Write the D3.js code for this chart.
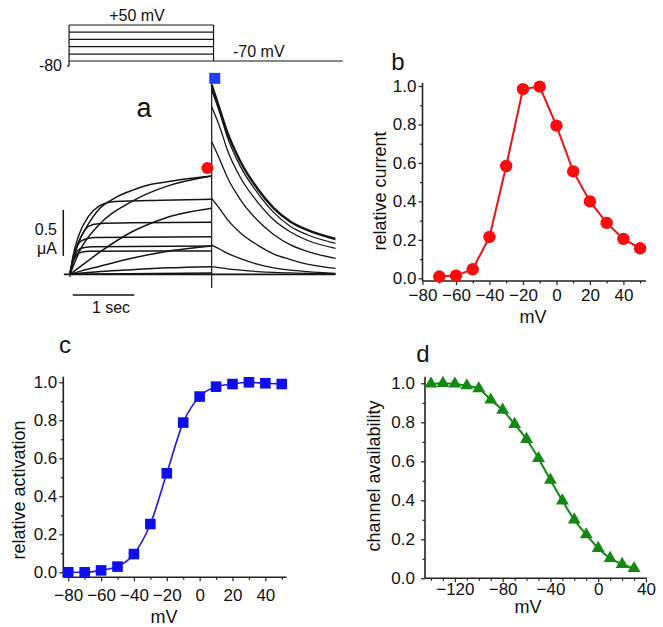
<!DOCTYPE html>
<html>
<head>
<meta charset="utf-8">
<script src="https://cdn.jsdelivr.net/npm/d3@7"></script>
<style>
  html, body { margin: 0; padding: 0; background: #fff; }
  svg { display: block; }
  text { font-family: "Liberation Sans", Arial, Helvetica, sans-serif; fill: #111; }
</style>
</head>
<body>
<svg id="chart" width="663" height="627"></svg>
<script>
// ---------------- DATA ----------------
// Panel a: voltage protocol (mV)
const holdingPotential = -80;
const stepLevels = [50, 24, -2, -28, -55];
const stepDuration = 2.31;        // sec
const protocolEnd = 4.43;         // sec
// Panel a: activation currents during the step, [time (s), current (uA)]
const activationTraces = [
  [[0,0],[0.05,0.15],[0.135,0.34],[0.24,0.48],[0.46,0.70],[0.73,0.83],[1.0,0.91],[1.27,0.97],[1.54,1.0],[1.81,1.03],[2.3,1.068]],
  [[0,0],[0.17,0.27],[0.46,0.53],[1.0,0.79],[1.54,0.95],[2.3,1.068]],
  [[0,0],[0.05,0.2],[0.135,0.41],[0.3,0.63],[0.46,0.735],[0.73,0.79],[1.5,0.805],[2.3,0.815]],
  [[0,0],[0.2,0.1],[0.46,0.23],[1.0,0.46],[1.54,0.61],[2.3,0.717]],
  [[0,0],[0.05,0.17],[0.135,0.34],[0.3,0.52],[0.46,0.55],[1.0,0.56],[2.3,0.565]],
  [[0,0],[0.04,0.14],[0.1,0.28],[0.2,0.37],[0.4,0.40],[2.3,0.409]],
  [[0,0],[0.03,0.1],[0.08,0.2],[0.17,0.28],[0.35,0.30],[2.3,0.308]],
  [[0,0],[0.03,0.1],[0.07,0.17],[0.14,0.23],[0.3,0.25],[2.3,0.253]],
  [[0,0],[0.2,0.04],[0.46,0.083],[1.0,0.174],[1.54,0.246],[2.3,0.308]],
  [[0,0],[0.5,0.03],[1.0,0.05],[1.6,0.07],[2.3,0.083]],
  [[0,0],[2.3,0.014]]
];
// Panel a: tail currents after the step (time since step end, s)
const tailTimes = [0, 0.143, 0.25, 0.468, 0.739, 1.01, 1.28, 1.55, 2.01];
const tailCurrents = [
  [2.058,1.768,1.55,1.224,0.935,0.717,0.572,0.482,0.384],
  [2.003,1.73,1.5,1.17,0.89,0.67,0.52,0.43,0.337],
  [1.822,1.58,1.36,1.05,0.79,0.59,0.46,0.37,0.283],
  [1.442,1.23,1.06,0.81,0.59,0.43,0.32,0.25,0.174],
  [0.826,0.70,0.60,0.45,0.32,0.22,0.16,0.11,0.065],
  [0.318,0.27,0.23,0.17,0.11,0.07,0.045,0.03,0.011],
  [0.083,0.07,0.06,0.045,0.03,0.02,0.015,0.01,0.005]
];
const stepCurrentMarker = [2.23, 1.155];   // red circle (t, uA)
const tailCurrentMarker = [2.35, 2.13];    // blue square (t, uA)

// Panel b: relative current vs voltage
const bVoltages = [-70,-60,-50,-40,-30,-20,-10,0,10,20,30,40,50];
const bCurrent  = [0.009,0.014,0.047,0.215,0.584,0.984,0.997,0.794,0.556,0.40,0.288,0.205,0.156];

// Panel c: relative activation vs voltage
const cVoltages   = [-80,-70,-60,-50,-40,-30,-20,-10,0,10,20,30,40,50];
const cActivation = [0.0,0.0,0.01,0.03,0.096,0.254,0.521,0.788,0.925,0.977,0.991,1.0,0.995,0.991];

// Panel d: channel availability vs voltage
const dVoltages     = [-140,-130,-120,-110,-100,-90,-80,-70,-60,-50,-40,-30,-20,-10,0,10,20,30];
const dAvailability = [0.997,1.0,0.997,0.988,0.973,0.915,0.863,0.79,0.713,0.615,0.504,0.398,0.30,0.224,0.154,0.103,0.072,0.051];

// Tick labels
const yTicksMajor = [0,0.2,0.4,0.6,0.8,1.0];
const yTicksMinor = [0.1,0.3,0.5,0.7,0.9];
const bXMajor = [-80,-60,-40,-20,0,20,40];
const bXMinor = [-70,-50,-30,-10,10,30,50];
const cXMajor = [-80,-60,-40,-20,0,20,40];
const cXMinor = [-70,-50,-30,-10,10,30,50];
const dXMajor = [-120,-80,-40,0,40];
const dXMinor = [-140,-130,-110,-100,-90,-70,-60,-50,-30,-20,-10,10,20,30];

// ---------------- DRAW ----------------
const svg = d3.select("#chart");
svg.append("rect").attr("width",663).attr("height",627).attr("fill","#fff");
const FONT = '"Liberation Sans", Arial, Helvetica, sans-serif';

// ===== Panel a =====
const xA = d3.scaleLinear().domain([0, 1]).range([70, 131.6]);    // 1 s
const yA = d3.scaleLinear().domain([0, 1]).range([274.3, 182.3]);  // 1 uA
const yV = d3.scaleLinear().domain([-80, 50]).range([61, 25]);
const gA = svg.append("g");
const ink = "#151515";

// protocol
stepLevels.forEach(v => {
  gA.append("line").attr("x1", xA(-0.015)).attr("x2", xA(stepDuration + 0.02))
    .attr("y1", yV(v)).attr("y2", yV(v)).attr("stroke", ink).attr("stroke-width", 1.2);
});
gA.append("line").attr("x1", xA(-0.015)).attr("x2", xA(-0.015))
  .attr("y1", yV(d3.max(stepLevels))).attr("y2", yV(holdingPotential) + 5).attr("stroke", ink).attr("stroke-width", 1.2);
gA.append("line").attr("x1", xA(-0.05)).attr("x2", xA(-0.015))
  .attr("y1", yV(holdingPotential) + 5).attr("y2", yV(holdingPotential) + 5).attr("stroke", ink).attr("stroke-width", 1.2);
gA.append("line").attr("x1", xA(stepDuration + 0.02)).attr("x2", xA(stepDuration + 0.02))
  .attr("y1", yV(d3.max(stepLevels))).attr("y2", yV(holdingPotential)).attr("stroke", ink).attr("stroke-width", 1.2);
gA.append("line").attr("x1", xA(-0.015)).attr("x2", xA(protocolEnd))
  .attr("y1", yV(holdingPotential)).attr("y2", yV(holdingPotential)).attr("stroke", ink).attr("stroke-width", 1.2);
gA.append("text").attr("x", 137).attr("y", 20.5).attr("text-anchor","middle")
  .style("font-size","16px").text("+50 mV");
gA.append("text").attr("x", 233).attr("y", 57.3).attr("text-anchor","start")
  .style("font-size","16px").text("-70 mV");
gA.append("text").attr("x", 62).attr("y", 71).attr("text-anchor","end")
  .style("font-size","16px").text("-80");

// currents
const lineA = d3.line().x(d => xA(d[0])).y(d => yA(d[1])).curve(d3.curveMonotoneX);
activationTraces.forEach(tr => {
  gA.append("path").attr("d", lineA(tr)).attr("fill","none").attr("stroke", ink).attr("stroke-width", 1.5);
});
tailCurrents.forEach((tc, k) => {
  const pts = tailTimes.map((t, j) => [stepDuration - 0.01 + t, tc[j]]);
  gA.append("path").attr("d", lineA(pts)).attr("fill","none").attr("stroke", ink)
    .attr("stroke-width", k === 0 ? 2.4 : 1.3);
});
// baseline and step-end line
gA.append("line").attr("x1", xA(-0.1)).attr("x2", xA(stepDuration - 0.01 + d3.max(tailTimes)))
  .attr("y1", yA(0)).attr("y2", yA(0)).attr("stroke", ink).attr("stroke-width", 1.8);
gA.append("line").attr("x1", xA(0)).attr("x2", xA(0))
  .attr("y1", yA(0.045)).attr("y2", yA(-0.03)).attr("stroke", ink).attr("stroke-width", 1.2);
gA.append("line").attr("x1", xA(stepDuration - 0.01)).attr("x2", xA(stepDuration - 0.01))
  .attr("y1", yA(2.12)).attr("y2", yA(-0.15)).attr("stroke", ink).attr("stroke-width", 1.2);
// scale bars
gA.append("line").attr("x1", 63.3).attr("x2", 63.3).attr("y1", yA(0.7)).attr("y2", yA(0.2))
  .attr("stroke", ink).attr("stroke-width", 1.5);
gA.append("line").attr("x1", xA(0.045)).attr("x2", xA(1.045)).attr("y1", 295).attr("y2", 295)
  .attr("stroke", ink).attr("stroke-width", 1.5);
gA.append("text").attr("x", 57).attr("y", 235).attr("text-anchor","end").style("font-size","16px").text("0.5");
gA.append("text").attr("x", 57).attr("y", 254).attr("text-anchor","end").style("font-size","16px").text("\u03BCA");
gA.append("text").attr("x", 111).attr("y", 313).attr("text-anchor","middle").style("font-size","16px").text("1 sec");
// markers
gA.append("circle").attr("cx", xA(stepCurrentMarker[0])).attr("cy", yA(stepCurrentMarker[1]))
  .attr("r", 6).attr("fill", "#ff0a0a");
gA.append("rect").attr("x", xA(tailCurrentMarker[0]) - 5.5).attr("y", yA(tailCurrentMarker[1]) - 5.5)
  .attr("width", 11).attr("height", 11).attr("fill", "#1f3fff");
gA.append("text").attr("x", 144).attr("y", 117).attr("text-anchor","middle")
  .style("font-size","27px").text("a");

// ===== generic axis helper =====
function drawAxes(g, x, y, opt) {
  const axisStroke = "#222";
  g.append("line").attr("x1", x.range()[0]).attr("x2", opt.xEnd)
    .attr("y1", opt.axisY).attr("y2", opt.axisY).attr("stroke", axisStroke).attr("stroke-width", 1.6);
  g.append("line").attr("x1", x.range()[0]).attr("x2", x.range()[0])
    .attr("y1", opt.axisY).attr("y2", opt.yTop).attr("stroke", axisStroke).attr("stroke-width", 1.6);
  const xMinorG = g.append("g").attr("transform", `translate(0,${opt.axisY})`)
    .call(d3.axisBottom(x).tickValues(opt.xMinor).tickSize(2.5).tickSizeOuter(0).tickFormat(""));
  const xMajorG = g.append("g").attr("transform", `translate(0,${opt.axisY})`)
    .call(d3.axisBottom(x).tickValues(opt.xMajor).tickSize(4).tickSizeOuter(0).tickPadding(opt.xPad).tickFormat(d3.format("d")));
  const yMinorG = g.append("g").attr("transform", `translate(${x.range()[0]},0)`)
    .call(d3.axisLeft(y).tickValues(yTicksMinor).tickSize(2.5).tickSizeOuter(0).tickFormat(""));
  const yMajorG = g.append("g").attr("transform", `translate(${x.range()[0]},0)`)
    .call(d3.axisLeft(y).tickValues(yTicksMajor).tickSize(4).tickSizeOuter(0).tickPadding(opt.yPad).tickFormat(d3.format(".1f")));
  [xMinorG, xMajorG, yMinorG, yMajorG].forEach(a => {
    a.select(".domain").remove();
    a.selectAll("line").attr("stroke", axisStroke).attr("stroke-width", 1.2);
    a.selectAll("text").style("font-size", "17px").style("font-family", FONT).attr("fill", "#111");
  });
  g.append("text").attr("x", opt.xTitle[0]).attr("y", opt.xTitle[1]).attr("text-anchor","middle")
    .style("font-size","18px").text("mV");
  g.append("text").attr("transform", `translate(${opt.yTitle[0]},${opt.yTitle[1]}) rotate(-90)`)
    .attr("text-anchor","middle").style("font-size","18px").text(opt.yLabel);
  g.append("text").attr("x", opt.letter[0]).attr("y", opt.letter[1]).attr("text-anchor","middle")
    .style("font-size","24px").text(opt.letterText);
}

// ===== Panel b =====
const xB = d3.scaleLinear().domain([-80, 53.5]).range([422.5, 646]);
const yB = d3.scaleLinear().domain([0, 1]).range([278.3, 86]);
const gB = svg.append("g");
drawAxes(gB, xB, yB, {axisY: 281, xEnd: 646, yTop: 83, xMajor: bXMajor, xMinor: bXMinor,
  xPad: 4, yPad: 2, xTitle: [533, 323], yTitle: [386, 191], yLabel: "relative current",
  letter: [398, 70], letterText: "b"});
const bPts = bVoltages.map((v, i) => [v, bCurrent[i]]);
gB.append("path").attr("d", d3.line().x(d => xB(d[0])).y(d => yB(d[1]))(bPts))
  .attr("fill","none").attr("stroke","#ee1111").attr("stroke-width", 2);
gB.selectAll("circle.pt").data(bPts).join("circle").attr("class","pt")
  .attr("cx", d => xB(d[0])).attr("cy", d => yB(d[1])).attr("r", 6.2).attr("fill", "#ff0a0a");

// ===== Panel c =====
const xC = d3.scaleLinear().domain([-83, 53]).range([63.3, 286.7]);
const yC = d3.scaleLinear().domain([0, 1]).range([572.3, 382.3]);
const gC = svg.append("g");
drawAxes(gC, xC, yC, {axisY: 577.3, xEnd: 286.7, yTop: 376.7, xMajor: cXMajor, xMinor: cXMinor,
  xPad: 8, yPad: 2, xTitle: [164, 623], yTitle: [25, 490], yLabel: "relative activation",
  letter: [65, 353], letterText: "c"});
const cPts = cVoltages.map((v, i) => [v, cActivation[i]]);
gC.append("path").attr("d", d3.line().x(d => xC(d[0])).y(d => yC(d[1])).curve(d3.curveMonotoneX)(cPts))
  .attr("fill","none").attr("stroke","#1a1ae6").attr("stroke-width", 1.6);
gC.selectAll("rect.pt").data(cPts).join("rect").attr("class","pt")
  .attr("x", d => xC(d[0]) - 5.3).attr("y", d => yC(d[1]) - 5.3).attr("width", 10.6).attr("height", 10.6)
  .attr("fill", "#0f0fee");

// ===== Panel d =====
const xD = d3.scaleLinear().domain([-145, 40.6]).range([425, 646.7]);
const yD = d3.scaleLinear().domain([0, 1]).range([578.3, 383.3]);
const gD = svg.append("g");
drawAxes(gD, xD, yD, {axisY: 578.3, xEnd: 646.7, yTop: 376.7, xMajor: dXMajor, xMinor: dXMinor,
  xPad: 1, yPad: 6, xTitle: [528, 613], yTitle: [380, 476], yLabel: "channel availability",
  letter: [423, 362], letterText: "d"});
const dPts = dVoltages.map((v, i) => [v, dAvailability[i]]);
gD.append("path").attr("d", d3.line().x(d => xD(d[0])).y(d => yD(d[1])).curve(d3.curveMonotoneX)(dPts))
  .attr("fill","none").attr("stroke","#138a13").attr("stroke-width", 2);
gD.selectAll("path.pt").data(dPts).join("path").attr("class","pt")
  .attr("transform", d => `translate(${xD(d[0])},${yD(d[1])})`)
  .attr("d", d3.symbol().type(d3.symbolTriangle).size(72)())
  .attr("fill", "#128a12");
</script>
</body>
</html>
